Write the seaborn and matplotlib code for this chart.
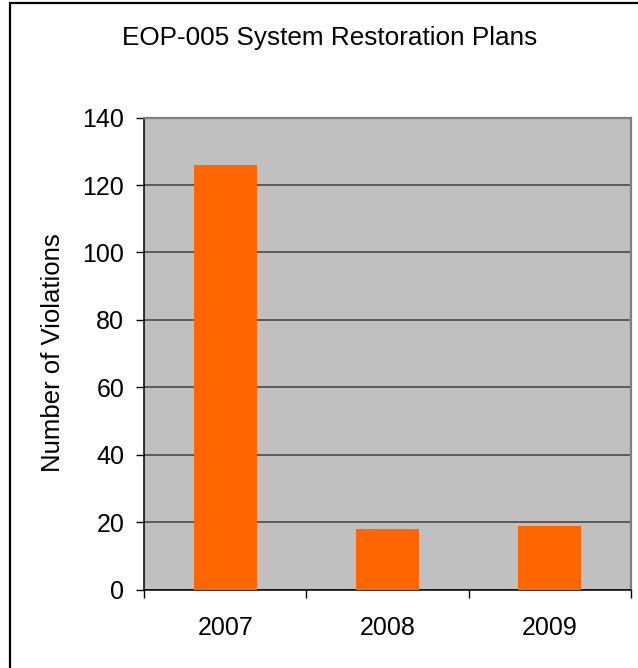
import matplotlib
matplotlib.use("Agg")
import matplotlib.pyplot as plt
import seaborn as sns
from matplotlib.patches import Rectangle
from matplotlib.ticker import FixedLocator

# Data
years = ["2007", "2008", "2009"]
violations = [126, 18, 19]

sns.set_style("white")
plt.rcParams["font.family"] = ["Liberation Sans", "DejaVu Sans"]
plt.rcParams["text.color"] = "#000000"
plt.rcParams["axes.labelcolor"] = "#000000"
plt.rcParams["xtick.color"] = "#000000"
plt.rcParams["ytick.color"] = "#000000"

fig = plt.figure(figsize=(6.38, 6.68), dpi=100)
W, H = 638, 668
# plot area in pixels: left 144, right 631, top 117.6, bottom 589.6
ax = fig.add_axes([144 / W, 1 - 589.6 / H, (631 - 144) / W, (589.6 - 117.6) / H])

sns.barplot(x=years, y=violations, color="#FF6600", width=0.39,
            saturation=1, linewidth=0, edgecolor="none", ax=ax, zorder=3)

ax.set_facecolor("#C0C0C0")
ax.set_ylim(0, 140)
ax.set_xlim(-0.5, 2.5)
ax.set_yticks(range(0, 141, 20))
ax.yaxis.grid(True, color="#404040", linewidth=1.1, zorder=1)
ax.set_axisbelow(True)

# spines
for side in ["left", "bottom"]:
    ax.spines[side].set_color("#000000")
    ax.spines[side].set_linewidth(1.1)
for side in ["top", "right"]:
    ax.spines[side].set_color("#808080")
    ax.spines[side].set_linewidth(1.6)

# y ticks point outward
ax.tick_params(axis="y", direction="out", length=5.8, width=1, color="#000000",
               pad=8.5, labelsize=18, left=True)
# x labels centred on the bars, tick marks on the category boundaries
ax.tick_params(axis="x", which="major", length=0, pad=19, labelsize=18)
ax.xaxis.set_minor_locator(FixedLocator([-0.5, 0.5, 1.5, 2.5]))
ax.tick_params(axis="x", which="minor", direction="out", length=5.8, width=1,
               color="#000000", bottom=True)

ax.set_xlabel("")
ax.set_ylabel("")
fig.text(53 / W, 1 - 353 / H, "Number of Violations", rotation=90,
         ha="center", va="center", fontsize=18.5)

fig.text(330 / W, 1 - 38 / H, "EOP-005 System Restoration Plans",
         ha="center", va="center", fontsize=18.8)

# chart border (only left and top edges are inside the image)
fig.patches.append(Rectangle((9.5 / W, -0.05), 1.2, 1 - 3.5 / H + 0.05,
                             transform=fig.transFigure, fill=False,
                             edgecolor="#000000", linewidth=1.6))

fig.savefig("out.png", dpi=100)
